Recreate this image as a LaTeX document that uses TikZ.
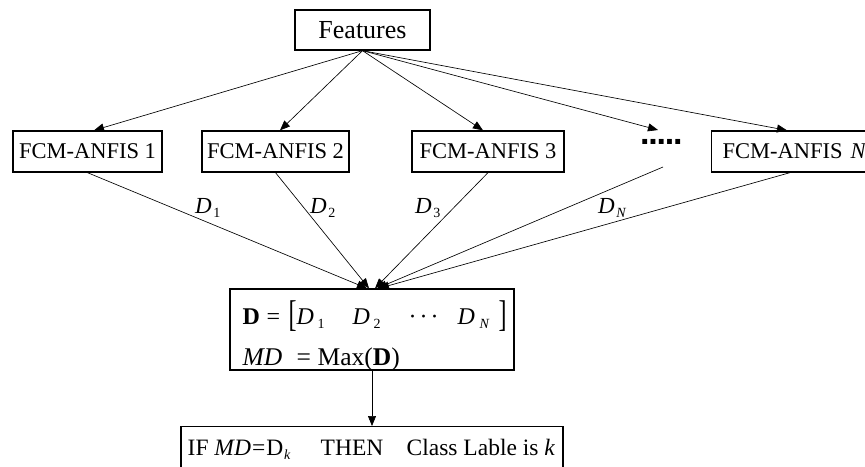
\documentclass[tikz,border=0pt]{standalone}
\usepackage{fontspec}
\usepackage{graphicx}
\setmainfont{Liberation Serif}
\newfontfamily\dotfont{Liberation Sans}
\usetikzlibrary{arrows.meta}
\newcommand\mysub[1]{\raisebox{-4.5pt}{\fontsize{14}{14}\selectfont #1}}
\newcommand\putat[2]{\rlap{\hspace{#1pt}#2}}
\newcommand\fs[1]{\fontsize{#1}{#1}\selectfont}
\begin{document}
\begin{tikzpicture}[x=1pt,y=-1pt,
  box/.style={draw, line width=1.3pt, inner sep=0pt},
  conn/.style={line width=0.65pt, -{Triangle[length=10pt,width=8pt]}},
  txt/.style={inner sep=0pt, anchor=base west}]
\useasboundingbox (0,0) rectangle (865,466);
\clip (0,0) rectangle (865,466);
\fill[white] (0,0) rectangle (865,466);

% boxes
\node[box, minimum width=135pt, minimum height=40pt, font=\fs{26}] (feat) at (362.5,30) {Features};
\node[box, minimum width=149pt, minimum height=41pt, font=\fs{22.5}] (f1) at (87.5,151.5) {FCM-ANFIS 1};
\node[box, minimum width=147pt, minimum height=41pt, font=\fs{22.5}] (f2) at (275.5,151.5) {FCM-ANFIS 2};
\node[box, minimum width=152pt, minimum height=41pt, font=\fs{22.5}] (f3) at (488,151.5) {FCM-ANFIS 3};
\node[box, minimum height=41pt, font=\fs{22.5}, anchor=west, inner xsep=11pt] (fn) at (711,151.5) {FCM-ANFIS\hspace{8pt}\textit{N}};
\node[txt, font=\dotfont\fs{34}\bfseries] (dots) at (640,144) {.\kern-1.2pt.\kern-1.2pt.\kern-1.2pt.\kern-1.2pt.};
\coordinate (dotin) at (658,130);
\coordinate (dotout) at (663,167);

\node[box, minimum width=284pt, minimum height=81pt] (dbox) at (372,329.5) {};
\node[box, minimum width=382pt, minimum height=60pt, anchor=north] (res) at (372,426) {};

% D box text
\node[txt, font=\fs{24}] (dl1) at (242,324) {\putat{0}{\textbf{D}}\putat{24}{=}\putat{46}{\raisebox{-2.5pt}{\scalebox{1}[1.55]{[}}}\putat{54}{\textit{D}}\putat{75}{\mysub{1}}\putat{110}{\textit{D}}\putat{131}{\mysub{2}}\putat{166}{·\kern3pt·\kern3pt·}\putat{215}{\textit{D}}\putat{237}{\mysub{\textit{N}}}\putat{256}{\raisebox{-2.5pt}{\scalebox{1}[1.55]{]}}}};
\node[txt, font=\fs{25.5}] (dl2) at (242,365) {\putat{0}{\textit{MD}}\putat{54}{=}\putat{75}{Max(\textbf{D})}};

% result text
\node[txt, font=\fs{23.5}] (rt) at (187,455) {\putat{0}{IF \textit{MD}\kern1pt=\kern1pt D\kern1pt\mysub{\textit{k}}}\putat{133}{THEN}\putat{219}{Class Lable is \textit{k}}};

% labels
\node[txt, font=\fs{23}] (l1) at (195,213) {\textit{D}\kern1.5pt\mysub{1}};
\node[txt, font=\fs{23}] (l2) at (310,213) {\textit{D}\kern1.5pt\mysub{2}};
\node[txt, font=\fs{23}] (l3) at (415,213) {\textit{D}\kern1.5pt\mysub{3}};
\node[txt, font=\fs{23}] (ln) at (598,213) {\textit{D}\kern1.5pt\mysub{\textit{N}}};

% connectors from Features
\draw[conn] (feat.south) -- ([xshift=6.5pt]f1.north);
\draw[conn] (feat.south) -- ([xshift=4.5pt]f2.north);
\draw[conn] (feat.south) -- ([xshift=-5pt]f3.north);
\draw[conn] (feat.south) -- (dotin);
\draw[conn] (feat.south) -- ([xshift=76pt]fn.north west);

% connectors to D box
\draw[conn] (f1.south) -- ([xshift=-5pt]dbox.north);
\draw[conn] (f2.south) -- ([xshift=-3pt]dbox.north);
\draw[conn] (f3.south) -- ([xshift=3pt]dbox.north);
\draw[conn] (dotout) -- ([xshift=5pt]dbox.north);
\draw[conn] ([xshift=79pt]fn.south west) -- ([xshift=7pt]dbox.north);
\draw[conn] (dbox.south) -- (res.north);
\end{tikzpicture}
\end{document}
